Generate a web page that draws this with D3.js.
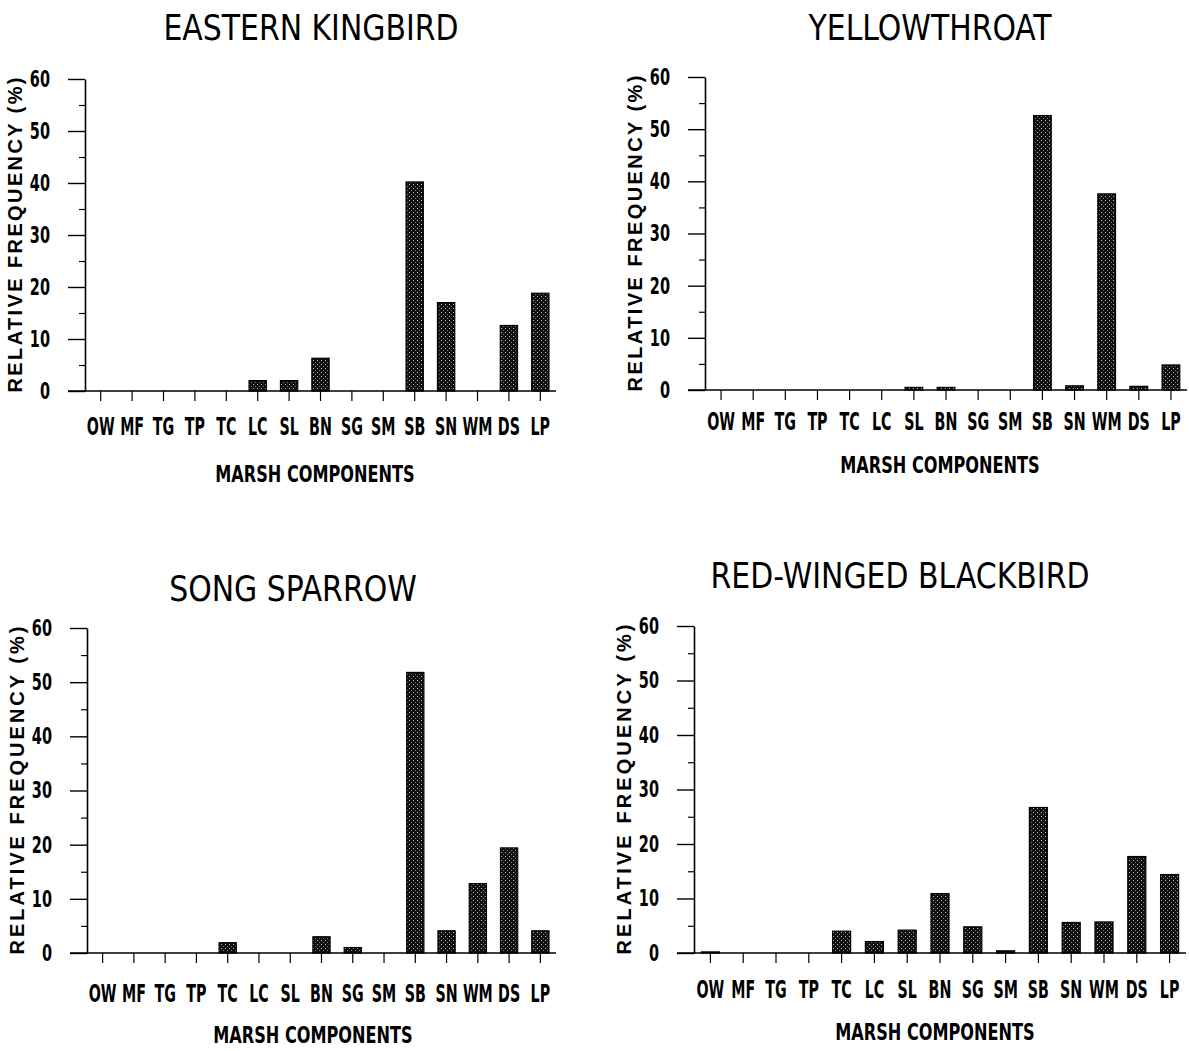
<!DOCTYPE html>
<html>
<head>
<meta charset="utf-8">
<script src="https://cdn.jsdelivr.net/npm/d3@7"></script>
<style>
  html, body { margin: 0; padding: 0; background: #fff; }
  svg { display: block; }
</style>
</head>
<body>
<div id="app"></div>
<script>
// marsh component codes along the x axis
const categories = ["OW", "MF", "TG", "TP", "TC", "LC", "SL", "BN", "SG", "SM", "SB", "SN", "WM", "DS", "LP"];

// relative frequency (%) per component
const kingbird = [0, 0, 0, 0, 0, 2.0, 2.0, 6.3, 0, 0, 40.2, 17.0, 0, 12.6, 18.8];
const yellowthroat = [0, 0, 0, 0, 0, 0, 0.5, 0.5, 0, 0, 52.6, 0.8, 37.6, 0.7, 4.8];
const songSparrow = [0, 0, 0, 0, 1.9, 0, 0, 3.0, 1.0, 0, 51.8, 4.1, 12.8, 19.4, 4.1];
const blackbird = [0.2, 0, 0, 0, 4.0, 2.1, 4.2, 10.9, 4.8, 0.4, 26.7, 5.6, 5.7, 17.7, 14.4];

const titles = ["EASTERN KINGBIRD", "YELLOWTHROAT", "SONG SPARROW", "RED-WINGED BLACKBIRD"];
const yMajorTicks = [0, 10, 20, 30, 40, 50, 60];
const yMinorTicks = [5, 15, 25, 35, 45, 55];
const yTitle = "RELATIVE  FREQUENCY  (%)";
const xTitle = "MARSH  COMPONENTS";

const series = [kingbird, yellowthroat, songSparrow, blackbird];

// where each panel sits on the page
const layout = [
  { x0: 85, x1: 556, top: 79, bottom: 391, titleX: 311, titleY: 40, tickBase: 435, xTitleX: 315, xTitleY: 482 },
  { x0: 705, x1: 1187, top: 77, bottom: 390, titleX: 930, titleY: 40, tickBase: 430, xTitleX: 940, xTitleY: 473 },
  { x0: 87, x1: 556, top: 628, bottom: 953, titleX: 293, titleY: 601, tickBase: 1002, xTitleX: 313, xTitleY: 1043 },
  { x0: 694, x1: 1186, top: 626, bottom: 953, titleX: 900, titleY: 588, tickBase: 998, xTitleX: 935, xTitleY: 1040 },
];

const W = 1189, H = 1051;
const narrow = "'Liberation Sans Narrow', 'DejaVu Sans Condensed', 'Arial Narrow', sans-serif";
const bold = "'Liberation Sans', Arial, Helvetica, sans-serif";

const svg = d3.select("#app").append("svg").attr("width", W).attr("height", H);

// stippled fill used by the bars
const pat = svg.append("defs").append("pattern")
  .attr("id", "stipple")
  .attr("patternUnits", "userSpaceOnUse")
  .attr("width", 4).attr("height", 4);
pat.append("rect").attr("width", 4).attr("height", 4).attr("fill", "#111");
pat.append("rect").attr("x", 1).attr("y", 0).attr("width", 1).attr("height", 1).attr("fill", "#bbb");
pat.append("rect").attr("x", 3).attr("y", 2).attr("width", 1).attr("height", 1).attr("fill", "#777");

series.forEach((values, i) => {
  const L = layout[i];
  const g = svg.append("g");

  const x = d3.scaleBand()
    .domain(categories)
    .range([L.x0, L.x1])
    .paddingInner(0.45)
    .paddingOuter(0.225);

  const y = d3.scaleLinear().domain([0, 60]).range([L.bottom, L.top]);

  // title (condensed face, squeezed a little)
  g.append("text")
    .attr("transform", `translate(${L.titleX},${L.titleY}) scale(0.95,1)`)
    .attr("text-anchor", "middle")
    .style("font-family", narrow)
    .style("font-size", "35px")
    .text(titles[i]);

  // bars
  g.selectAll("rect.bar")
    .data(categories.map((c, j) => ({ c, v: values[j] })))
    .join("rect")
    .attr("class", "bar")
    .attr("x", (d) => x(d.c))
    .attr("width", x.bandwidth())
    .attr("y", (d) => y(d.v))
    .attr("height", (d) => y(0) - y(d.v))
    .attr("fill", "url(#stipple)")
    .attr("stroke", "#000")
    .attr("stroke-width", 1.2);

  // y axis, major ticks with labels
  const ySq = 0.7;
  const yAxis = g.append("g")
    .attr("transform", `translate(${L.x0},0)`)
    .call(d3.axisLeft(y).tickValues(yMajorTicks).tickSize(17).tickPadding(18).tickSizeOuter(0));
  yAxis.select(".domain").attr("stroke-width", 1.6);
  yAxis.selectAll(".tick line").attr("stroke-width", 1.4);
  yAxis.selectAll(".tick text")
    .attr("x", -35 / ySq)
    .attr("transform", `scale(${ySq},1)`)
    .style("font-family", narrow)
    .style("font-weight", "bold")
    .style("font-size", "23px")
    .attr("fill", "#000");

  // y axis, minor ticks
  const yMinor = g.append("g")
    .attr("transform", `translate(${L.x0},0)`)
    .call(d3.axisLeft(y).tickValues(yMinorTicks).tickSize(6).tickFormat(""));
  yMinor.select(".domain").remove();
  yMinor.selectAll(".tick line").attr("stroke-width", 1.2);

  // x axis
  const fs = 24;
  const tickSize = 10;
  const xAxis = g.append("g")
    .attr("transform", `translate(0,${y(0)})`)
    .call(d3.axisBottom(x).tickSize(tickSize)
      .tickPadding(L.tickBase - y(0) - 0.71 * fs - tickSize));
  xAxis.select(".domain").remove();
  xAxis.selectAll(".tick line").attr("stroke-width", 1.2);
  xAxis.selectAll(".tick text")
    .attr("transform", "scale(0.66,1)")
    .style("font-family", narrow)
    .style("font-weight", "bold")
    .style("font-size", fs + "px")
    .attr("fill", "#000");

  g.append("line")
    .attr("x1", L.x0 - 17).attr("x2", L.x1)
    .attr("y1", y(0)).attr("y2", y(0))
    .attr("stroke", "#000").attr("stroke-width", 1.6);

  // x axis title
  g.append("text")
    .attr("transform", `translate(${L.xTitleX},${L.xTitleY}) scale(0.78,1)`)
    .attr("text-anchor", "middle")
    .style("font-family", narrow)
    .style("font-weight", "bold")
    .style("font-size", "23px")
    .text(xTitle);

  // y axis title
  const span = y(0) - y(60) + 3;
  g.append("text")
    .attr("transform", `translate(${L.x0 - 63},${(y(0) + y(60)) / 2}) rotate(-90)`)
    .attr("text-anchor", "middle")
    .style("font-family", bold)
    .style("font-weight", "bold")
    .style("font-size", "20px")
    .attr("textLength", span)
    .attr("lengthAdjust", "spacing")
    .text(yTitle);
});
</script>
</body>
</html>
